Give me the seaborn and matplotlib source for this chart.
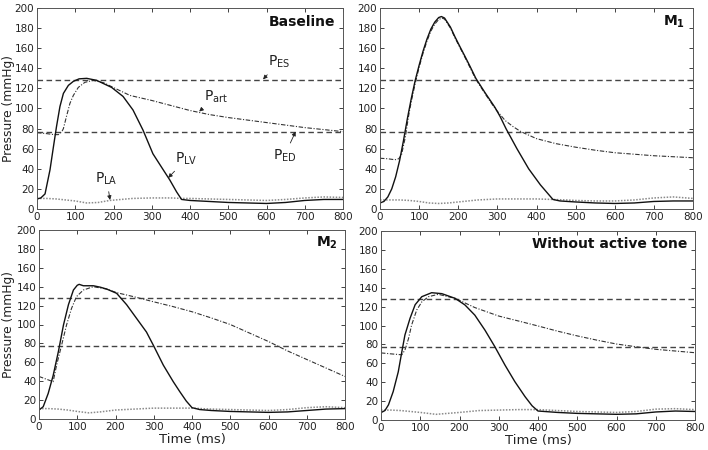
import matplotlib
matplotlib.use("Agg")
import matplotlib.pyplot as plt
import seaborn as sns
import pandas as pd

sns.set_style("ticks")
plt.rcParams['font.family'] = ['DejaVu Sans']
plt.rcParams['mathtext.fontset'] = 'dejavusans'

# reference pressures (mmHg)
P_ES = 128
P_ED = 77

# ---- Baseline
bl_lv_t = [0, 10, 21, 34, 43, 51, 60, 69, 82, 95, 110, 130, 156, 195, 225, 251, 277, 303, 330, 347, 365, 378, 400, 450, 500, 550, 600, 650, 700, 750, 800]
bl_lv_p = [10, 11, 15, 39, 62, 82, 102, 115, 123, 127, 129.5, 130, 128, 121, 112, 98.5, 78.6, 55, 39, 29, 17, 9.5, 8.5, 7.5, 6.5, 6, 5.5, 6.5, 8.5, 9.5, 9.5]
bl_art_t = [0, 25, 45, 56, 65, 69, 77, 86, 95, 108, 125, 147, 175, 199, 243, 300, 350, 400, 450, 500, 550, 600, 650, 700, 750, 800]
bl_art_p = [76, 75, 74, 74, 77, 80, 92, 105, 113, 121, 126, 128, 125.5, 121, 113, 108, 103, 98, 94, 91, 88.5, 86, 83.5, 81, 79, 77]
bl_la_t = [0, 25, 50, 75, 100, 130, 160, 190, 220, 250, 300, 350, 378, 400, 450, 500, 550, 600, 650, 700, 750, 800]
bl_la_p = [10.5, 10.5, 10, 9, 8, 6, 6.5, 8.5, 9.5, 10.5, 11, 11, 10.5, 10.5, 10, 9.5, 9, 8.5, 9.5, 11, 12, 11.5]

# ---- M1
m1_lv_t = [0, 10, 20, 30, 40, 50, 60, 70, 80, 90, 100, 110, 120, 130, 140, 150, 157, 165, 180, 192, 205, 217, 230, 245, 268, 294, 307, 322, 350, 380, 410, 442, 460, 500, 550, 600, 650, 700, 750, 800]
m1_lv_p = [6, 7.5, 12, 20, 32, 48, 68, 90, 110, 128, 143, 157, 169, 179, 186, 190.5, 191.5, 190, 181, 171, 161, 152, 142, 130, 116, 101, 92, 80, 60, 40, 24, 9.5, 8, 7, 6, 5.5, 6, 7.5, 8, 8]
m1_art_t = [0, 20, 38, 48, 55, 60, 65, 70, 75, 80, 90, 100, 110, 120, 130, 140, 150, 158, 165, 180, 192, 217, 245, 268, 294, 307, 320, 340, 360, 400, 450, 500, 550, 600, 650, 700, 750, 800]
m1_art_p = [50.5, 50, 49, 50, 54, 63, 72, 85, 97, 107, 125, 141, 155, 167, 177, 184, 188.5, 190, 189, 180, 170, 151, 129, 115, 100, 94, 88, 82, 77, 70, 65, 61.5, 58.5, 56, 54.5, 53, 52, 51]
m1_la_t = [0, 25, 50, 75, 100, 125, 150, 175, 200, 250, 300, 350, 400, 442, 475, 500, 550, 600, 650, 700, 750, 800]
m1_la_p = [9, 9, 9, 8.5, 7.5, 6, 5.5, 6, 7, 9, 10, 10, 10, 9.5, 9, 8.5, 8, 8, 9, 11, 12, 10.5]

# ---- M2
m2_lv_t = [0, 11, 24, 37, 51, 64, 77, 90, 100, 105, 116, 142, 160, 177, 203, 229, 255, 281, 299, 325, 351, 368, 385, 400, 420, 450, 500, 550, 600, 650, 700, 750, 800]
m2_lv_p = [9.5, 13, 27, 46, 72, 99.5, 121, 136.5, 141.5, 142.5, 141, 141, 139.5, 137.5, 133, 121, 106.5, 92, 78, 57, 39.5, 29, 19, 12, 10, 9, 8, 7.5, 7, 7.5, 9, 10.5, 11]
m2_art_t = [0, 20, 37, 46, 59, 72, 85, 98, 116, 142, 177, 203, 247, 300, 350, 400, 450, 500, 550, 600, 650, 700, 750, 800]
m2_art_p = [45, 42, 39.5, 57, 78, 99.5, 117, 129.5, 136.5, 140, 137.5, 133.7, 129.5, 124, 119, 113.5, 107, 100, 91, 82, 72, 63, 54, 45]
m2_la_t = [0, 25, 50, 75, 100, 130, 160, 200, 250, 300, 350, 400, 450, 500, 550, 600, 650, 700, 750, 800]
m2_la_p = [11, 11, 10.5, 9.5, 8, 6.5, 7.5, 9.5, 10.5, 11.5, 11.5, 11.5, 10.5, 10, 9.5, 9, 10, 12, 13, 12]

# ---- Without active tone
wo_lv_t = [0, 10, 19, 31, 44, 53, 61, 74, 87, 104, 129, 155, 189, 214, 239, 265, 290, 316, 341, 367, 385, 400, 450, 500, 550, 600, 650, 700, 750, 800]
wo_lv_p = [7.8, 10, 16, 30, 51, 72, 90, 107.6, 122, 130.5, 134.7, 133.7, 128.7, 121.7, 111, 95, 77.6, 58, 40.6, 24.7, 15, 9.5, 8, 7, 6.5, 6, 6.5, 8.5, 9.5, 9]
wo_art_t = [0, 25, 53, 61, 70, 78, 91, 104, 121, 146, 189, 239, 300, 367, 400, 450, 500, 550, 600, 650, 700, 750, 800]
wo_art_p = [71, 70, 69, 74, 86, 100.5, 116.4, 125, 130.5, 133, 128.7, 119, 110, 103, 99.5, 94, 89, 84.5, 80.4, 77.5, 74.8, 73, 71.2]
wo_la_t = [0, 25, 50, 75, 100, 140, 170, 200, 250, 300, 350, 400, 450, 500, 550, 600, 650, 700, 750, 800]
wo_la_p = [10.5, 10.5, 10, 9, 8, 6, 7, 8, 10, 10.5, 11, 11, 10, 9, 8.5, 8, 9, 11.5, 12, 11]

panels = [
    ("Baseline", bl_lv_t, bl_lv_p, bl_art_t, bl_art_p, bl_la_t, bl_la_p),
    (r"$\mathbf{M_1}$", m1_lv_t, m1_lv_p, m1_art_t, m1_art_p, m1_la_t, m1_la_p),
    (r"$\mathbf{M_2}$", m2_lv_t, m2_lv_p, m2_art_t, m2_art_p, m2_la_t, m2_la_p),
    ("Without active tone", wo_lv_t, wo_lv_p, wo_art_t, wo_art_p, wo_la_t, wo_la_p),
]

# axes boxes in figure pixels (708 x 450)
W, H = 708, 450
boxes = [(37, 8, 343, 209), (380, 8, 693, 209), (39, 230, 345, 419), (381, 231, 695, 420)]

fig = plt.figure(figsize=(7.08, 4.5), dpi=100)
txt = '#222222'

for i, (name, lv_t, lv_p, art_t, art_p, la_t, la_p) in enumerate(panels):
    x0, y0, x1, y1 = boxes[i]
    ax = fig.add_axes([x0 / W, 1 - y1 / H, (x1 - x0) / W, (y1 - y0) / H])

    ax.axhline(P_ES, color='#444444', lw=1.0, ls=(0, (4, 2.5)), zorder=1)
    ax.axhline(P_ED, color='#444444', lw=1.0, ls=(0, (4, 2.5)), zorder=1)
    sns.lineplot(x=la_t, y=la_p, ax=ax, color='#8a8a8a', lw=1.1, linestyle=(0, (1, 1)))
    sns.lineplot(x=art_t, y=art_p, ax=ax, color='#333333', lw=0.8, linestyle=(0, (4, 1.5, 1, 1.5)))
    sns.lineplot(x=lv_t, y=lv_p, ax=ax, color='#111111', lw=1.0, linestyle='-')

    ax.set_xlim(0, 800)
    ax.set_ylim(0, 200)
    ax.set_xticks(range(0, 801, 100))
    ax.set_yticks(range(0, 201, 20))
    ax.tick_params(direction='in', top=True, right=True, length=3, width=0.6,
                   labelsize=7.5, pad=2, colors=txt)
    for s in ax.spines.values():
        s.set_linewidth(0.7)
        s.set_color('#555555')
    ax.text(0.975, 0.93, name, transform=ax.transAxes, ha='right', va='center',
            fontsize=10, fontweight='bold', color='#111111')
    ax.set_xlabel("Time (ms)" if i >= 2 else "", fontsize=9.5, color=txt, labelpad=1)
    if i % 2 == 0:
        ax.set_ylabel("Pressure (mmHg)", fontsize=8.8, color=txt)
        ax.yaxis.set_label_coords((15 - x0) / (x1 - x0), 0.5)
    else:
        ax.set_ylabel("")

    if i == 0:
        arrow = dict(arrowstyle='-|>', color='#222222', lw=0.6, mutation_scale=6, shrinkA=1, shrinkB=0)
        notes = [(r"P$_{\mathrm{ES}}$", (632, 146), (591, 129)),
                 (r"P$_{\mathrm{art}}$", (469, 112), (424, 97)),
                 (r"P$_{\mathrm{ED}}$", (647, 53), (676, 77)),
                 (r"P$_{\mathrm{LV}}$", (391, 50), (343, 31)),
                 (r"P$_{\mathrm{LA}}$", (182, 30), (191, 9))]
        for label, xyt, xy in notes:
            ax.annotate(label, xy=xy, xytext=xyt, ha='center', va='center',
                        fontsize=10, color=txt, arrowprops=arrow)

fig.savefig("out.png", dpi=100)
